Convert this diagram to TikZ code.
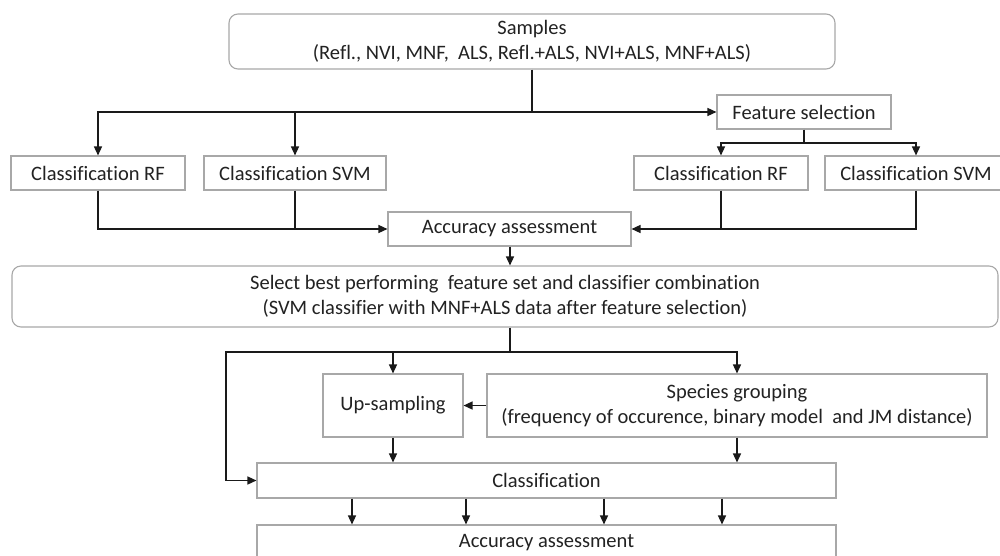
\documentclass[tikz,border=0pt]{standalone}
\usepackage{fontspec}
\setmainfont[Ligatures=NoCommon]{Carlito}
\usetikzlibrary{arrows.meta,calc}
\definecolor{boxgray}{HTML}{A8A8A8}
\definecolor{linec}{HTML}{1A1A1A}
\definecolor{txt}{HTML}{222222}
\tikzset{
  box/.style={draw=boxgray,line width=1.1pt,fill=white,inner sep=0pt,align=center,text=txt,
    font=\fontsize{20.5}{25}\selectfont},
  rbox/.style={box,rounded corners=9pt},
  arr/.style={draw=linec,line width=1.4pt,-{Triangle[length=9pt,width=8pt]}},
  ln/.style={draw=linec,line width=1.4pt}
}
\begin{document}
\begin{tikzpicture}[x=1pt,y=-1pt]
\useasboundingbox (0,0) rectangle (1000,555);
\clip (0,0) rectangle (1000,555);
\fill[white] (0,0) rectangle (1000,555);
% nodes
\node[rbox,minimum width=606pt,minimum height=55pt] (samples) at (532,41.5) {Samples\\(Refl., NVI, MNF,\ \ ALS, Refl.+ALS, NVI+ALS, MNF+ALS)};
\node[box,minimum width=174pt,minimum height=34pt] (fs) at (804,112) {Feature selection};
\node[box,minimum width=174pt,minimum height=34pt] (lrf) at (98,173) {Classification RF};
\node[box,minimum width=182pt,minimum height=34pt] (lsvm) at (295,173) {Classification SVM};
\node[box,minimum width=174pt,minimum height=34pt] (rrf) at (721,173) {Classification RF};
\node[box,minimum width=182pt,minimum height=34pt] (rsvm) at (916,173) {Classification SVM};
\node[box,minimum width=243pt,minimum height=34pt] (acc1) at (509.5,229) {Accuracy assessment};
\node[rbox,minimum width=986pt,minimum height=61pt] (sel) at (505,296.5) {Select best performing\ \ feature set and classifier combination\\(SVM classifier with MNF+ALS data after feature selection)};
\node[box,minimum width=140pt,minimum height=63pt] (up) at (393,405.5) {Up-sampling};
\node[box,minimum width=500pt,minimum height=63pt] (species) at (737,405.5) {Species grouping\\(frequency of occurence, binary model\ \ and JM distance)};
\node[box,minimum width=579pt,minimum height=35pt] (cls) at (546.5,480.5) {Classification};
\node[box,minimum width=579pt,minimum height=35pt] (acc2) at (546.5,542.5) {Accuracy assessment};
% junctions
\coordinate (j1) at (532,112);
\coordinate (j2) at (804,143);
\coordinate (j3) at (510,352);
\coordinate (j4) at (226,352);
% connectors
\draw[ln] (samples.south -| j1) -- (j1);
\draw[arr] (j1) -- (fs.west);
\draw[arr] (j1) -| (lrf.north);
\draw[arr] (lsvm.north |- j1) -- (lsvm.north);
\draw[ln] (fs.south) -- (j2);
\draw[arr] (j2) -| (rrf.north);
\draw[arr] (j2) -| (rsvm.north);
\draw[arr] (lrf.south) |- (acc1.west);
\draw[ln] (lsvm.south) -- (lsvm.south |- acc1.west);
\draw[arr] (rsvm.south) |- (acc1.east);
\draw[ln] (rrf.south) -- (rrf.south |- acc1.east);
\draw[arr] (acc1.south -| j3) -- (sel.north -| j3);
\draw[ln] (sel.south -| j3) -- (j3);
\draw[arr] (j3) -| (species.north);
\draw[arr] (up.north |- j3) -- (up.north);
\draw[arr] (j3) -- (j4) |- (cls.west);
\draw[arr] (species.west) -- (up.east);
\draw[arr] (up.south) -- (up.south |- cls.north);
\draw[arr] (species.south) -- (species.south |- cls.north);
\foreach \x in {352,466,604,722}{
  \draw[arr] (cls.south -| \x,0) -- (acc2.north -| \x,0);
}
\end{tikzpicture}
\end{document}
